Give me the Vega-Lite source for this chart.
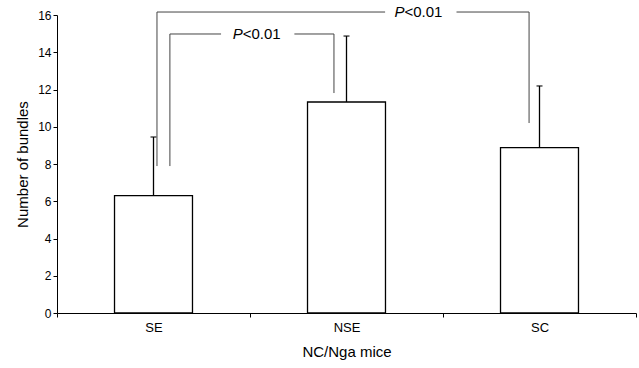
{
  "$schema": "https://vega.github.io/schema/vega-lite/v6.json",
  "autosize": {"type": "none"},
  "width": 579,
  "height": 298,
  "padding": {"left": 57, "top": 15, "right": 3, "bottom": 55},
  "background": "white",
  "config": {
    "view": {"stroke": null},
    "font": "Liberation Sans",
    "axis": {"labelFont": "Liberation Sans", "titleFont": "Liberation Sans", "titleFontWeight": "normal", "labelColor": "black", "titleColor": "black", "domainColor": "black", "tickColor": "black", "grid": false}
  },
  "datasets": {
    "bars": [
      {"group": "SE", "mean": 6.3, "upper": 9.45},
      {"group": "NSE", "mean": 11.33, "upper": 14.87},
      {"group": "SC", "mean": 8.88, "upper": 12.19}
    ],
    "brackets": [
      {"x": 0.585, "x2": 0.585, "y": 7.89, "y2": 14.98},
      {"x": 0.585, "x2": 0.85, "y": 14.98, "y2": 14.98},
      {"x": 1.23, "x2": 1.435, "y": 14.98, "y2": 14.98},
      {"x": 1.435, "x2": 1.435, "y": 11.81, "y2": 14.98},
      {"x": 0.518, "x2": 0.518, "y": 7.89, "y2": 16.16},
      {"x": 0.518, "x2": 1.70, "y": 16.16, "y2": 16.16},
      {"x": 2.07, "x2": 2.446, "y": 16.16, "y2": 16.16},
      {"x": 2.446, "x2": 2.446, "y": 10.2, "y2": 16.16}
    ],
    "pvals": [
      {"x": 0.962, "y": 14.98},
      {"x": 1.8, "y": 16.16}
    ]
  },
  "encoding": {
    "y": {
      "type": "quantitative",
      "scale": {"domain": [0, 16], "nice": false, "zero": true},
      "axis": {"title": "Number of bundles", "values": [0, 2, 4, 6, 8, 10, 12, 14, 16], "tickCount": 9, "labelOverlap": false, "tickSize": 4, "labelFontSize": 12, "labelPadding": 2, "titleFontSize": 15, "titlePadding": 7}
    }
  },
  "layer": [
    {
      "data": {"name": "bars"},
      "encoding": {
        "x": {
          "field": "group", "type": "nominal", "sort": ["SE", "NSE", "SC"],
          "scale": {"paddingInner": 0, "paddingOuter": 0},
          "axis": {"title": "NC/Nga mice", "labelAngle": 0, "tickBand": "extent", "tickSize": 4, "labelFontSize": 13, "labelPadding": 4, "titleFontSize": 15, "titlePadding": 10}
        }
      },
      "layer": [
        {
          "mark": {"type": "rule", "color": "black", "strokeWidth": 1.3},
          "encoding": {
            "y": {"field": "mean"},
            "y2": {"field": "upper"}
          }
        },
        {
          "mark": {"type": "tick", "color": "black", "size": 6, "thickness": 1.5},
          "encoding": {
            "y": {"field": "upper"}
          }
        },
        {
          "mark": {"type": "bar", "fill": "white", "stroke": "black", "strokeWidth": 1.3, "width": {"band": 0.404}},
          "encoding": {
            "y": {"field": "mean"}
          }
        }
      ]
    },
    {
      "encoding": {
        "x": {"field": "x", "type": "quantitative", "scale": {"domain": [0, 3], "nice": false, "zero": false}, "axis": null}
      },
      "layer": [
        {
          "data": {"name": "brackets"},
          "mark": {"type": "rule", "color": "#444444", "strokeWidth": 1},
          "encoding": {
            "x2": {"field": "x2"},
            "y": {"field": "y"},
            "y2": {"field": "y2"}
          }
        },
        {
          "data": {"name": "pvals"},
          "mark": {"type": "text", "text": "P", "fontStyle": "italic", "fontSize": 15, "align": "right", "baseline": "middle", "color": "black"},
          "encoding": {
            "y": {"field": "y"}
          }
        },
        {
          "data": {"name": "pvals"},
          "mark": {"type": "text", "text": "<0.01", "fontSize": 15, "align": "left", "baseline": "middle", "color": "black"},
          "encoding": {
            "y": {"field": "y"}
          }
        }
      ]
    }
  ],
  "resolve": {"scale": {"x": "independent"}}
}
